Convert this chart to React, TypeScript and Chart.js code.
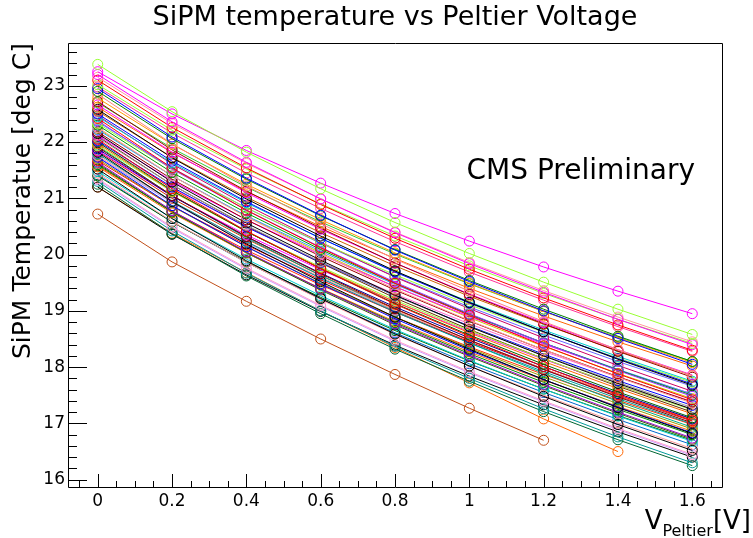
import React, { useEffect, useRef } from "react";
import { Chart, registerables } from "chart.js";

Chart.register(...registerables);

const VOLTAGES = [0, 0.2, 0.4, 0.6, 0.8, 1.0, 1.2, 1.4, 1.6];

const T01 = [23.38, 22.54, 21.82, 21.17, 20.57, 20.02, 19.51, 19.03, 18.58];
const T02 = [23.25, 22.50, 21.85, 21.27, 20.73, 20.24, 19.78, 19.35, 18.95];
const T03 = [23.20, 22.36, 21.64, 20.99, 20.39, 19.84, 19.33, 18.85, 18.40];
const T04 = [23.15, 22.33, 21.62, 20.99, 20.40, 19.86, 19.36, 18.89, 18.45];
const T05 = [23.10, 22.26, 21.54, 20.89, 20.29, 19.74, 19.23, 18.75, 18.30];
const T06 = [23.02, 22.21, 21.52, 20.90, 20.33, 19.80, 19.31, 18.85, 18.42];
const T07 = [22.95, 22.09, 21.36, 20.70, 20.08, 19.52, 19.00, 18.51, 18.05];
const T08 = [22.90, 22.06, 21.34, 20.69, 20.09, 19.54, 19.03, 18.55, 18.10];
const T09 = [22.85, 21.97, 21.22, 20.55, 19.92, 19.35, 18.81, 18.31, 17.85];
const T10 = [22.78, 21.96, 21.25, 20.62, 20.03, 19.49, 18.99, 18.52, 18.08];
const T11 = [22.72, 21.86, 21.13, 20.47, 19.85, 19.29, 18.77, 18.28, 17.82];
const T12 = [22.66, 21.82, 21.10, 20.45, 19.85, 19.30, 18.79, 18.31, 17.86];
const T13 = [22.62, 21.81, 21.12, 20.50, 19.93, 19.40, 18.91, 18.45, 18.02];
const T14 = [22.58, 21.72, 20.99, 20.33, 19.71, 19.15, 18.63, 18.14, 17.68];
const T15 = [22.55, 21.73, 21.02, 20.39, 19.80, 19.26, 18.76, 18.29, 17.85];
const T16 = [22.50, 21.66, 20.94, 20.29, 19.69, 19.14, 18.63, 18.15, 17.70];
const T17 = [22.45, 21.63, 20.92, 20.29, 19.70, 19.16, 18.66, 18.19, 17.75];
const T18 = [22.42, 21.54, 20.79, 20.12, 19.49, 18.92, 18.38, 17.88, 17.42];
const T19 = [22.38, 21.52, 20.79, 20.13, 19.51, 18.95, 18.43, 17.94, 17.48];
const T20 = [22.33, 21.52, 20.83, 20.21, 19.64, 19.11, 18.62, 18.16, 17.73];
const T21 = [22.30, 21.46, 20.74, 20.09, 19.49, 18.94, 18.43, 17.95, 17.50];
const T22 = [22.26, 21.40, 20.67, 20.01, 19.39, 18.83, 18.31, 17.82, 17.36];
const T23 = [22.22, 21.40, 20.69, 20.06, 19.47, 18.93, 18.43, 17.96, 17.52];
const T24 = [22.18, 21.34, 20.62, 19.97, 19.37, 18.82, 18.31, 17.83, 17.38];
const T25 = [22.15, 21.29, 20.56, 19.90, 19.28, 18.72, 18.20, 17.71, 17.25];
const T26 = [22.12, 21.31, 20.62, 20.00, 19.43, 18.90, 18.41, 17.95, 17.52];
const T27 = [22.08, 21.24, 20.52, 19.87, 19.27, 18.72, 18.21, 17.73, 17.28];
const T28 = [22.05, 21.17, 20.42, 19.75, 19.12, 18.55, 18.01, 17.51, 17.05];
const T29 = [22.02, 21.20, 20.49, 19.86, 19.27, 18.73, 18.23, 17.76, 17.32];
const T30 = [22.00, 21.14, 20.41, 19.75, 19.13, 18.57, 18.05, 17.56, 17.10];
const T31 = [21.97, 21.13, 20.41, 19.76, 19.16, 18.61, 18.10, 17.62, 17.17];
const T32 = [21.94, 21.12, 20.41, 19.78, 19.19, 18.65, 18.15, 17.68, 17.24];
const T33 = [21.91, 21.05, 20.32, 19.66, 19.04, 18.48, 17.96, 17.47, 17.01];
const T34 = [21.88, 21.04, 20.32, 19.67, 19.07, 18.52, 18.01, 17.53, 17.08];
const T35 = [21.85, 21.04, 20.35, 19.73, 19.16, 18.63, 18.14, 17.68, 17.25];
const T36 = [21.82, 20.94, 20.19, 19.52, 18.89, 18.32, 17.78, 17.28, 16.82];
const T37 = [21.79, 20.95, 20.23, 19.58, 18.98, 18.43, 17.92, 17.44, 16.99];
const T38 = [21.76, 20.94, 20.23, 19.60, 19.01, 18.47, 17.97, 17.50, 17.06];
const T39 = [21.73, 20.87, 20.14, 19.48, 18.86, 18.30, 17.78, 17.29, 16.83];
const T40 = [21.70, 20.86, 20.14, 19.49, 18.89, 18.34, 17.83, 17.35, 16.90];
const T41 = [21.67, 20.86, 20.17, 19.55, 18.98, 18.45, 17.96, 17.50, 17.07];
const T42 = [21.64, 20.78, 20.05, 19.39, 18.77, 18.21, 17.69, 17.20, 16.74];
const T43 = [21.60, 20.76, 20.04, 19.39, 18.79, 18.24, 17.73, 17.25, 16.80];
const T44 = [21.56, 20.74, 20.03, 19.40, 18.81, 18.27, 17.77, 17.30, 16.86];
const T45 = [21.52, 20.64, 19.89, 19.22, 18.59, 18.02, 17.48, 16.98, 16.52];
const T46 = [21.48, 20.64, 19.92, 19.27, 18.67, 18.12, 17.61, 17.13, 16.68];
const T47 = [21.45, 20.59, 19.86, 19.20, 18.58, 18.02, 17.50, 17.01, 16.55];
const T48 = [21.40, 20.58, 19.87, 19.24, 18.65, 18.11, 17.61, 17.14, 16.70];
const T49 = [21.35, 20.49, 19.76, 19.10, 18.48, 17.92, 17.40, 16.91, 16.45];
const T50 = [21.30, 20.42, 19.67, 19.00, 18.37, 17.80, 17.26, 16.76, 16.30];
const T51 = [21.25, 20.37, 19.62, 18.95, 18.32, 17.75, 17.21, 16.71, 16.25];
const T52 = [21.20, 20.36, 19.64, 18.99, 18.39, 17.84, 17.33, 16.85, 16.40];
const T53 = [21.20, 20.38, 19.68, 19.00, 18.35, 17.72, 17.08, 16.50];
const T54 = [20.72, 19.87, 19.17, 18.50, 17.87, 17.27, 16.70];
const T55 = [22.98, 22.16, 21.45, 20.82, 20.23, 19.69, 19.19, 18.72, 18.28];
const T56 = [22.70, 21.89, 21.20, 20.58, 20.01, 19.48, 18.99, 18.53, 18.10];
const T57 = [22.47, 21.61, 20.88, 20.22, 19.60, 19.04, 18.52, 18.03, 17.57];
const T58 = [22.36, 21.54, 20.83, 20.20, 19.61, 19.07, 18.57, 18.10, 17.66];
const T59 = [22.24, 21.40, 20.68, 20.03, 19.43, 18.88, 18.37, 17.89, 17.44];
const T60 = [22.10, 21.24, 20.51, 19.85, 19.23, 18.67, 18.15, 17.66, 17.20];
const T61 = [21.99, 21.18, 20.49, 19.87, 19.30, 18.77, 18.28, 17.82, 17.39];
const T62 = [21.93, 21.05, 20.30, 19.63, 19.00, 18.43, 17.89, 17.39, 16.93];
const T63 = [21.84, 21.00, 20.28, 19.63, 19.03, 18.48, 17.97, 17.49, 17.04];
const T64 = [21.74, 20.92, 20.21, 19.58, 18.99, 18.45, 17.95, 17.48, 17.04];
const T65 = [21.62, 20.76, 20.03, 19.37, 18.75, 18.19, 17.67, 17.18, 16.72];
const T66 = [21.58, 20.77, 20.08, 19.46, 18.89, 18.36, 17.87, 17.41, 16.98];
const T67 = [21.42, 20.58, 19.86, 19.21, 18.61, 18.06, 17.55, 17.07, 16.62];
const T68 = [21.33, 20.47, 19.74, 19.08, 18.46, 17.90, 17.38, 16.89, 16.43];

const SERIES = [
  T01, T02, T03, T04, T05, T06, T07, T08, T09, T10, T11, T12, T13, T14, T15, T16, T17,
  T18, T19, T20, T21, T22, T23, T24, T25, T26, T27, T28, T29, T30, T31, T32, T33, T34,
  T35, T36, T37, T38, T39, T40, T41, T42, T43, T44, T45, T46, T47, T48, T49, T50, T51,
  T52, T55, T56, T57, T58, T59, T60, T61, T62, T63, T64, T65, T66, T67, T68, T53, T54,
];

const COLORS = [
  "#99ff33", "#ff00ff", "#ff00ff", "#ff9999", "#ff0000", "#99ff33", "#0000ff", "#008000",
  "#ff8080", "#ff9900", "#990000", "#ff00ff", "#ff6600", "#000000", "#cc6600", "#0000ff",
  "#00cccc", "#ff0000", "#9933ff", "#99ff33", "#009900", "#ff9999", "#3399ff", "#990000",
  "#000000", "#ff00ff", "#999999", "#ff0000", "#0000ff", "#006600", "#ff6600", "#99ff33",
  "#800000", "#000099", "#ff00ff", "#000000", "#009999", "#ff9999", "#0000ff", "#999900",
  "#ff0000", "#9900cc", "#008800", "#ff6600", "#000000", "#00cccc", "#ff9999", "#006600",
  "#ff99cc", "#009999", "#006633", "#000000",
  "#ff3399", "#33cc33", "#cc0066", "#6666ff", "#cccc00", "#663300", "#ff66cc", "#00aa88",
  "#cc3300", "#9999ff", "#336600", "#ff3300", "#0066cc", "#cc99ff",
  "#ff6600", "#c0501a",
];

const TITLE = "SiPM temperature vs Peltier Voltage";
const Y_TITLE = "SiPM Temperatue [deg C]";
const LABEL = "CMS Preliminary";

const FONT = "'DejaVu Sans', sans-serif";

const rootPlugin = {
  id: "rootFrame",
  afterDraw(chart: any) {
    const { ctx, chartArea } = chart;
    const xs = chart.scales.x;
    const ys = chart.scales.y;
    const { left, right, top, bottom } = chartArea;
    ctx.save();
    ctx.strokeStyle = "#000";
    ctx.lineWidth = 1;
    ctx.beginPath();
    ctx.rect(Math.round(left) + 0.5, Math.round(top) + 0.5, Math.round(right - left), Math.round(bottom - top));
    ctx.stroke();

    ctx.beginPath();
    for (let i = 75; i <= 120; i++) {
      const v = i / 5;
      if (v < ys.min || v > ys.max) continue;
      const py = Math.round(ys.getPixelForValue(v)) + 0.5;
      const len = i % 5 === 0 ? 19 : 9;
      ctx.moveTo(left, py);
      ctx.lineTo(left + len, py);
    }
    for (let i = -2; i <= 34; i++) {
      const v = i * 0.05;
      if (v < xs.min || v > xs.max) continue;
      const px = Math.round(xs.getPixelForValue(v)) + 0.5;
      const len = i % 4 === 0 ? 13 : 6;
      ctx.moveTo(px, bottom);
      ctx.lineTo(px, bottom - len);
    }
    ctx.stroke();

    ctx.fillStyle = "#000";
    ctx.font = `28px ${FONT}`;
    ctx.textAlign = "right";
    ctx.textBaseline = "alphabetic";
    ctx.fillText(LABEL, 695, 179);

    const big = `26px ${FONT}`;
    const small = `16px ${FONT}`;
    ctx.font = big;
    const wV = ctx.measureText("V").width;
    const wB = ctx.measureText("[V]").width;
    ctx.font = small;
    const wS = ctx.measureText("Peltier").width;
    let x = 751 - (wV + wS + wB);
    ctx.textAlign = "left";
    ctx.font = big;
    ctx.fillText("V", x, 529);
    x += wV;
    ctx.font = small;
    ctx.fillText("Peltier", x, 536);
    x += wS;
    ctx.font = big;
    ctx.fillText("[V]", x, 529);
    ctx.restore();
  },
};

export default function App() {
  const ref = useRef<HTMLCanvasElement | null>(null);

  useEffect(() => {
    document.body.style.margin = "0";
    const canvas = ref.current;
    if (!canvas) return;
    const datasets = SERIES.map((s, i) => ({
      label: `ch${i + 1}`,
      data: s.map((t, j) => ({ x: VOLTAGES[j], y: t })),
      borderColor: COLORS[i],
      backgroundColor: "rgba(0,0,0,0)",
      borderWidth: 1,
      pointRadius: 5,
      pointBorderWidth: 1,
      pointBorderColor: COLORS[i],
      pointBackgroundColor: "rgba(0,0,0,0)",
      pointStyle: "circle",
      showLine: true,
      tension: 0,
    }));
    const chart = new Chart(canvas, {
      type: "scatter",
      data: { datasets },
      options: {
        animation: false,
        responsive: false,
        layout: { padding: { left: 0, right: 31, top: 0, bottom: 0 } },
        plugins: {
          legend: { display: false },
          tooltip: { enabled: false },
          title: {
            display: true,
            text: TITLE,
            color: "#000",
            font: { family: FONT, size: 27, weight: "normal" },
            padding: { top: 2, bottom: 8.6 },
            fullSize: false,
          },
        },
        scales: {
          x: {
            type: "linear",
            min: -0.08,
            max: 1.68,
            afterFit: (s: any) => {
              s.height = 51;
            },
            grid: { display: false, drawTicks: false },
            border: { display: false },
            ticks: {
              stepSize: 0.2,
              includeBounds: false,
              padding: 4,
              color: "#000",
              font: { family: FONT, size: 17 },
              maxRotation: 0,
              autoSkip: false,
              callback: (v: any) => String(Math.round(Number(v) * 10) / 10),
            },
          },
          y: {
            type: "linear",
            min: 15.87,
            max: 23.76,
            afterFit: (s: any) => {
              s.width = 68;
            },
            grid: { display: false, drawTicks: false },
            border: { display: false },
            title: {
              display: true,
              text: Y_TITLE,
              align: "end",
              color: "#000",
              font: { family: FONT, size: 25 },
              padding: { top: 8, bottom: 0 },
            },
            ticks: {
              stepSize: 1,
              includeBounds: false,
              padding: 3,
              color: "#000",
              font: { family: FONT, size: 17 },
              autoSkip: false,
              callback: (v: any) => String(Math.round(Number(v))),
            },
          },
        },
      },
      plugins: [rootPlugin],
    });
    return () => chart.destroy();
  }, []);

  return (
    <div style={{ width: 753, height: 538 }}>
      <canvas ref={ref} width={753} height={538} style={{ width: 753, height: 538, display: "block" }} />
    </div>
  );
}
